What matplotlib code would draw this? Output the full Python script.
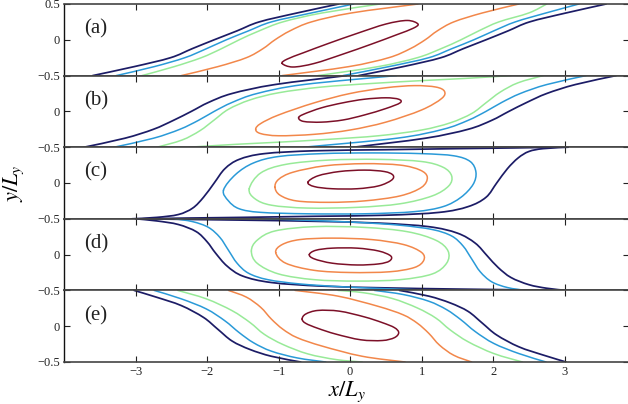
import matplotlib
matplotlib.use("Agg")
import matplotlib.pyplot as plt
from matplotlib.path import Path
from matplotlib.patches import PathPatch

plt.rcParams['font.family'] = ['Liberation Serif', 'DejaVu Serif']
plt.rcParams['mathtext.fontset'] = 'stix'

NAVY = '#1c1c66'
BLUE = '#2a9ad8'
GREEN = '#98ea98'
ORANGE = '#f2874a'
DARKRED = '#7c1028'

panel_labels = ['(a)', '(b)', '(c)', '(d)', '(e)']
x_ticks = [-3, -2, -1, 0, 1, 2, 3]
x_ticklabels = ['\u22123', '\u22122', '\u22121', '0', '1', '2', '3']
y_ticks = [-0.5, 0, 0.5]

Y9 = [-0.5, -0.375, -0.25, -0.125, 0, 0.125, 0.25, 0.375, 0.5]

# ---------------- panel (a) ----------------
a_navyL_x = [-3.60, -3.02, -2.51, -2.21, -1.90, -1.58, -1.27, -0.74, -0.16]
a_blueL_x = [-3.27, -2.74, -2.31, -2.01, -1.73, -1.42, -1.10, -0.54, 0.05]
a_greenL_x = [-2.91, -2.46, -2.08, -1.80, -1.55, -1.27, -0.94, -0.39, 0.42]
a_orangeL_x = [-2.36, -1.85, -1.45, -1.22, -1.05, -0.84, -0.54, 0.02, 0.95]
a_orangeR_x = [-0.95, -0.02, 0.54, 0.84, 1.05, 1.22, 1.45, 1.85, 2.36]
a_greenR_x = [-0.45, 0.39, 0.94, 1.27, 1.55, 1.80, 2.08, 2.50, 2.75]
a_blueR_x = [-0.10, 0.54, 1.10, 1.42, 1.73, 2.01, 2.31, 2.74, 3.20]
a_navyR_x = [0.12, 0.74, 1.27, 1.58, 1.90, 2.21, 2.51, 3.02, 3.58]
a_red_x = [-0.95, -0.80, -0.50, -0.10, 0.30, 0.65, 0.88, 0.95, 0.80, 0.50, 0.10, -0.30, -0.65, -0.88, -0.95]
a_red_y = [-0.33, -0.38, -0.33, -0.20, -0.06, 0.07, 0.16, 0.22, 0.27, 0.22, 0.09, -0.05, -0.18, -0.27, -0.33]

# ---------------- panel (b) ----------------
b_navyL_x = [-3.72, -3.15, -2.75, -2.47, -2.22, -1.98, -1.65, -1.05, -0.05]
b_blueL_x = [-3.30, -2.75, -2.38, -2.12, -1.90, -1.65, -1.30, -0.65, 0.65]
b_blueR_x = [-0.65, 0.65, 1.30, 1.65, 1.90, 2.12, 2.38, 2.75, 3.30]
b_navyR_x = [0.05, 1.05, 1.65, 1.98, 2.22, 2.47, 2.75, 3.15, 3.72]
b_greenL_x = [-2.70, -2.35, -2.10, -1.90, -1.70, -1.40, -1.00, -0.40, 0.30, 1.00, 1.60, 2.25]
b_greenL_y = [-0.5, -0.40, -0.27, -0.12, 0.03, 0.16, 0.26, 0.34, 0.39, 0.43, 0.46, 0.5]
b_greenR_x = [-2.25, -1.60, -1.00, -0.30, 0.40, 1.00, 1.40, 1.70, 1.90, 2.10, 2.35, 2.70]
b_greenR_y = [-0.5, -0.46, -0.43, -0.39, -0.34, -0.26, -0.16, -0.03, 0.12, 0.27, 0.40, 0.5]
b_orange_x = [-1.32, -1.25, -1.00, -0.50, 0.00, 0.50, 1.00, 1.28, 1.32, 1.20, 0.90, 0.50, 0.00, -0.50, -1.00, -1.25, -1.32]
b_orange_y = [-0.25, -0.31, -0.34, -0.32, -0.26, -0.15, 0.02, 0.18, 0.28, 0.34, 0.36, 0.33, 0.25, 0.12, -0.05, -0.17, -0.25]
b_red_x = [-0.72, -0.65, -0.40, -0.10, 0.20, 0.50, 0.70, 0.68, 0.50, 0.20, -0.10, -0.40, -0.65, -0.72]
b_red_y = [-0.09, -0.14, -0.15, -0.12, -0.05, 0.04, 0.12, 0.17, 0.19, 0.17, 0.12, 0.05, -0.04, -0.09]

# ---------------- panel (c) ----------------
c_navyL_x = [-3.05, -2.70, -2.40, -2.20, -2.05, -1.90, -1.75, -1.55, -1.20, -0.50, 0.50, 1.50, 2.30, 2.90]
c_navyL_y = [-0.5, -0.48, -0.44, -0.35, -0.20, 0.00, 0.20, 0.33, 0.41, 0.45, 0.465, 0.48, 0.49, 0.5]
c_navyR_x = [-2.90, -2.30, -1.50, -0.50, 0.50, 1.25, 1.65, 1.90, 2.05, 2.20, 2.35, 2.50, 2.70, 3.05]
c_navyR_y = [-0.5, -0.49, -0.48, -0.465, -0.45, -0.41, -0.33, -0.20, 0.00, 0.20, 0.35, 0.44, 0.48, 0.5]
c_blue_x = [-1.77, -1.70, -1.55, -1.25, -0.60, 0.20, 0.90, 1.30, 1.55, 1.72, 1.76, 1.68, 1.45, 1.00, 0.30, -0.40, -1.00, -1.35, -1.60, -1.77]
c_blue_y = [-0.10, -0.25, -0.36, -0.41, -0.43, -0.43, -0.40, -0.33, -0.20, -0.02, 0.15, 0.30, 0.38, 0.41, 0.42, 0.41, 0.37, 0.28, 0.12, -0.10]
c_green_x = [-1.41, -1.33, -1.10, -0.60, 0.10, 0.70, 1.15, 1.38, 1.42, 1.30, 1.00, 0.40, -0.30, -0.90, -1.25, -1.41]
c_green_y = [-0.08, -0.22, -0.31, -0.35, -0.34, -0.29, -0.18, -0.04, 0.10, 0.22, 0.30, 0.33, 0.32, 0.26, 0.14, -0.08]
c_orange_x = [-1.05, -0.98, -0.75, -0.30, 0.20, 0.70, 1.00, 1.08, 0.98, 0.70, 0.20, -0.35, -0.80, -1.00, -1.05]
c_orange_y = [-0.06, -0.17, -0.25, -0.27, -0.25, -0.18, -0.06, 0.08, 0.18, 0.25, 0.27, 0.24, 0.15, 0.05, -0.06]
c_red_x = [-0.59, -0.50, -0.25, 0.10, 0.40, 0.58, 0.60, 0.48, 0.20, -0.15, -0.45, -0.59]
c_red_y = [0.01, -0.05, -0.08, -0.08, -0.04, 0.04, 0.11, 0.16, 0.18, 0.16, 0.10, 0.01]

# ---------------- panel (d) ----------------
d_navyL_x = [-3.00, -2.70, -2.40, -2.15, -2.00, -1.88, -1.72, -1.50, -1.10, -0.40, 0.50, 1.40, 2.20, 2.90]
d_navyL_y = [0.5, 0.47, 0.42, 0.32, 0.18, 0.02, -0.16, -0.30, -0.39, -0.44, -0.465, -0.48, -0.49, -0.5]
d_navyR_x = [-2.90, -2.20, -1.40, -0.50, 0.40, 1.10, 1.50, 1.75, 1.92, 2.07, 2.25, 2.50, 2.75, 3.02]
d_navyR_y = [0.5, 0.49, 0.48, 0.465, 0.44, 0.39, 0.30, 0.16, -0.02, -0.18, -0.32, -0.42, -0.47, -0.5]
d_blueL_x = [-2.45, -2.20, -1.98, -1.82, -1.70, -1.58, -1.42, -1.15, -0.70, -0.10, 0.60, 1.20]
d_blueL_y = [0.5, 0.46, 0.38, 0.24, 0.06, -0.12, -0.26, -0.35, -0.41, -0.45, -0.48, -0.5]
d_blueR_x = [-1.20, -0.60, 0.10, 0.70, 1.15, 1.42, 1.58, 1.70, 1.82, 1.98, 2.20, 2.45]
d_blueR_y = [0.5, 0.48, 0.45, 0.41, 0.35, 0.26, 0.12, -0.06, -0.24, -0.38, -0.46, -0.5]
d_green_x = [-1.38, -1.30, -1.05, -0.50, 0.20, 0.80, 1.20, 1.37, 1.35, 1.15, 0.70, 0.10, -0.50, -1.00, -1.30, -1.38]
d_green_y = [0.05, 0.20, 0.33, 0.39, 0.38, 0.32, 0.20, 0.05, -0.12, -0.27, -0.35, -0.37, -0.35, -0.27, -0.12, 0.05]
d_orange_x = [-1.04, -0.95, -0.70, -0.25, 0.30, 0.75, 1.00, 1.03, 0.90, 0.55, 0.00, -0.50, -0.90, -1.04]
d_orange_y = [0.03, 0.14, 0.21, 0.23, 0.21, 0.14, 0.03, -0.08, -0.18, -0.24, -0.25, -0.22, -0.12, 0.03]
d_red_x = [-0.57, -0.48, -0.25, 0.10, 0.40, 0.57, 0.55, 0.40, 0.10, -0.25, -0.50, -0.57]
d_red_y = [0.00, 0.06, 0.09, 0.09, 0.05, -0.02, -0.09, -0.13, -0.145, -0.12, -0.06, 0.00]

# ---------------- panel (e) ----------------
e_navyL_x = [-3.02, -2.71, -2.36, -2.05, -1.85, -1.65, -1.40, -1.10, -0.69]
e_navyL_y = [0.5, 0.406, 0.288, 0.123, -0.042, -0.207, -0.325, -0.42, -0.5]
e_blueL_x = [-2.74, -2.36, -2.01, -1.75, -1.55, -1.35, -1.10, -0.74, -0.34]
e_blueL_y = [0.5, 0.382, 0.241, 0.075, -0.090, -0.231, -0.349, -0.443, -0.5]
e_greenL_x = [-2.41, -2.01, -1.65, -1.40, -1.20, -0.94, -0.59, -0.19, 0.17]
e_greenL_y = [0.5, 0.382, 0.217, 0.052, -0.113, -0.255, -0.387, -0.467, -0.5]
e_orangeL_x = [-1.70, -1.45, -1.25, -1.10, -0.94, -0.74, -0.39, 0.17, 0.77]
e_orangeL_y = [0.5, 0.406, 0.264, 0.099, -0.042, -0.160, -0.278, -0.420, -0.5]
e_orangeR_x = [-0.77, -0.17, 0.39, 0.74, 0.94, 1.10, 1.25, 1.45, 1.70]
e_orangeR_y = [0.5, 0.42, 0.278, 0.16, 0.042, -0.099, -0.264, -0.406, -0.5]
e_greenR_x = [-0.17, 0.19, 0.59, 0.94, 1.20, 1.40, 1.65, 2.01, 2.41]
e_greenR_y = [0.5, 0.467, 0.387, 0.255, 0.113, -0.052, -0.217, -0.382, -0.5]
e_blueR_x = [0.34, 0.74, 1.10, 1.35, 1.55, 1.75, 2.01, 2.36, 2.74]
e_blueR_y = [0.5, 0.443, 0.349, 0.231, 0.090, -0.075, -0.241, -0.382, -0.5]
e_navyR_x = [0.69, 1.10, 1.40, 1.65, 1.85, 2.05, 2.36, 2.71, 3.02]
e_navyR_y = [0.5, 0.42, 0.325, 0.207, 0.042, -0.123, -0.288, -0.406, -0.5]
e_red_x = [-0.67, -0.62, -0.45, -0.15, 0.20, 0.45, 0.62, 0.68, 0.62, 0.45, 0.15, -0.20, -0.45, -0.62, -0.67]
e_red_y = [0.10, 0.17, 0.22, 0.21, 0.13, 0.05, -0.02, -0.09, -0.16, -0.20, -0.19, -0.11, -0.03, 0.04, 0.10]

panels = [
    [(NAVY, a_navyL_x, Y9), (BLUE, a_blueL_x, Y9), (GREEN, a_greenL_x, Y9), (ORANGE, a_orangeL_x, Y9),
     (ORANGE, a_orangeR_x, Y9), (GREEN, a_greenR_x, Y9), (BLUE, a_blueR_x, Y9), (NAVY, a_navyR_x, Y9),
     (DARKRED, a_red_x, a_red_y)],
    [(NAVY, b_navyL_x, Y9), (BLUE, b_blueL_x, Y9), (GREEN, b_greenL_x, b_greenL_y),
     (GREEN, b_greenR_x, b_greenR_y), (BLUE, b_blueR_x, Y9), (NAVY, b_navyR_x, Y9),
     (ORANGE, b_orange_x, b_orange_y), (DARKRED, b_red_x, b_red_y)],
    [(NAVY, c_navyL_x, c_navyL_y), (NAVY, c_navyR_x, c_navyR_y), (BLUE, c_blue_x, c_blue_y),
     (GREEN, c_green_x, c_green_y), (ORANGE, c_orange_x, c_orange_y), (DARKRED, c_red_x, c_red_y)],
    [(NAVY, d_navyL_x, d_navyL_y), (NAVY, d_navyR_x, d_navyR_y), (BLUE, d_blueL_x, d_blueL_y),
     (BLUE, d_blueR_x, d_blueR_y), (GREEN, d_green_x, d_green_y), (ORANGE, d_orange_x, d_orange_y),
     (DARKRED, d_red_x, d_red_y)],
    [(NAVY, e_navyL_x, e_navyL_y), (BLUE, e_blueL_x, e_blueL_y), (GREEN, e_greenL_x, e_greenL_y),
     (ORANGE, e_orangeL_x, e_orangeL_y), (ORANGE, e_orangeR_x, e_orangeR_y), (GREEN, e_greenR_x, e_greenR_y),
     (BLUE, e_blueR_x, e_blueR_y), (NAVY, e_navyR_x, e_navyR_y), (DARKRED, e_red_x, e_red_y)],
]


def smooth_path(xs, ys):
    """Catmull-Rom curve through the read points, rendered as cubic Bezier path."""
    pts = list(zip(xs, ys))
    closed = len(pts) > 2 and pts[0] == pts[-1]
    if closed:
        pts = pts[:-1]
    n = len(pts)
    verts = [pts[0]]
    codes = [Path.MOVETO]
    nseg = n if closed else n - 1
    for i in range(nseg):
        p1 = pts[i]
        p2 = pts[(i + 1) % n]
        p0 = pts[(i - 1) % n] if (closed or i > 0) else p1
        p3 = pts[(i + 2) % n] if (closed or i + 2 < n) else p2
        c1 = (p1[0] + (p2[0] - p0[0]) / 6.0, p1[1] + (p2[1] - p0[1]) / 6.0)
        c2 = (p2[0] - (p3[0] - p1[0]) / 6.0, p2[1] - (p3[1] - p1[1]) / 6.0)
        verts += [c1, c2, p2]
        codes += [Path.CURVE4] * 3
    return Path(verts, codes)


W, H = 628, 404
fig = plt.figure(figsize=(W / 100, H / 100), dpi=100)
left_px, right_px = 64, 629
top_px, bot_px = 4, 362
ph = (bot_px - top_px) / 5.0

for i, lines in enumerate(panels):
    y_top = top_px + i * ph
    ax = fig.add_axes([left_px / W, 1 - (y_top + ph) / H, (right_px - left_px) / W, ph / H])
    for color, xs, ys in lines:
        lw = 1.25 if color == NAVY else 1.1
        ax.add_patch(PathPatch(smooth_path(xs, ys), facecolor='none', edgecolor=color,
                               lw=lw, joinstyle='round', capstyle='round'))
    ax.set_xlim(-4, 3.9)
    ax.set_ylim(-0.5, 0.5)
    ax.set_xticks(x_ticks)
    ax.set_yticks(y_ticks)
    if i == 0:
        ax.set_yticklabels(['\u22120.5', '0', '0.5'])
    else:
        ax.set_yticklabels(['\u22120.5', '0', ''])
    if i == 4:
        ax.set_xticklabels(x_ticklabels)
    else:
        ax.set_xticklabels([])
    ax.tick_params(direction='in', top=True, right=True, length=4, width=0.8,
                   labelsize=9, pad=3, colors='#222222')
    for side in ['top', 'bottom']:
        ax.spines[side].set_color('#444444')
        ax.spines[side].set_linewidth(1.2)
    ax.spines['left'].set_color('#111111')
    ax.spines['left'].set_linewidth(1.0)
    ax.spines['right'].set_visible(False)
    ax.text(-3.72, 0.15, panel_labels[i], fontsize=15, ha='left', va='center', color='#222222')
    if i == 4:
        ax.set_xlabel(r'$x/L_y$', fontsize=16, labelpad=1)
    if i == 2:
        ax.set_ylabel(r'$y/L_y$', fontsize=16, labelpad=8)

fig.savefig('out.png', dpi=100)
